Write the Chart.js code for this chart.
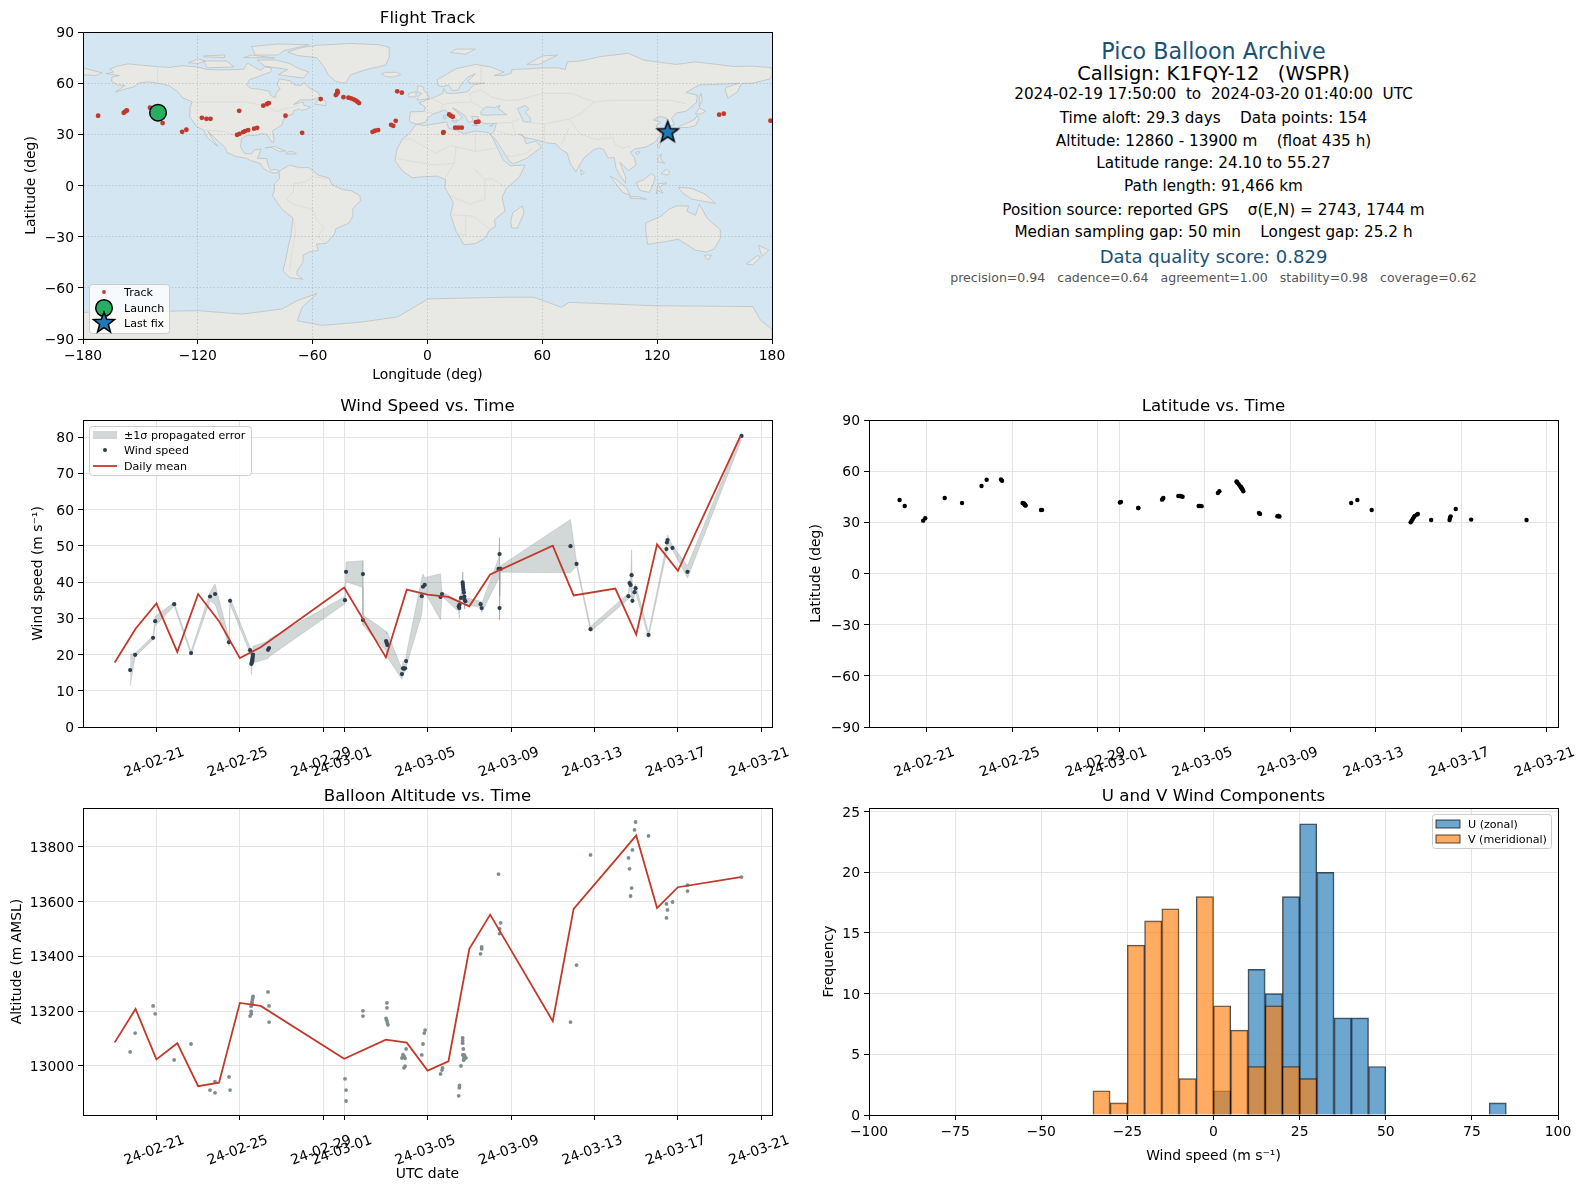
<!DOCTYPE html>
<html>
<head>
<meta charset="utf-8">
<title>Pico Balloon Archive</title>
<style>
  html, body { margin: 0; padding: 0; background: #fff; }
  body { position: relative; width: 1588px; height: 1189px; overflow: hidden; font-family: 'DejaVu Sans', sans-serif; color: #000; }
  canvas { position: absolute; }
  .info { position: absolute; left: 869px; width: 689px; text-align: center; white-space: pre; line-height: 24px; height: 24px; }
</style>
<script src="https://cdn.jsdelivr.net/npm/chart.js@4/dist/chart.umd.js"></script>
</head>
<body>
<canvas id="track-chart" width="794" height="388" style="left:0;top:0"></canvas>
<canvas id="wind-chart" width="794" height="388" style="left:0;top:388px"></canvas>
<canvas id="lat-chart" width="794" height="388" style="left:794px;top:388px"></canvas>
<canvas id="alt-chart" width="794" height="413" style="left:0;top:776px"></canvas>
<canvas id="hist-chart" width="794" height="413" style="left:794px;top:776px"></canvas>
<div id="info"></div>
<script>
// days are counted from 2024-02-00, so Mar 1 is day 30
const DATE_TICK_DAYS = [21, 25, 29, 30, 34, 38, 42, 46, 50];
const DATE_TICK_LABELS = ['24-02-21', '24-02-25', '24-02-29', '24-03-01', '24-03-05', '24-03-09', '24-03-13', '24-03-17', '24-03-21'];

const flightDays = [19.74, 19.98, 20.84, 20.94, 21.85, 22.66, 23.57, 23.81, 24.48, 24.53, 25.49, 25.55, 25.57, 25.58, 25.60, 25.60, 25.62, 25.63, 26.35, 26.40, 30.04, 30.09, 30.90, 30.90, 32.01, 32.04, 32.07, 32.77, 32.82, 32.87, 32.92, 32.97, 33.72, 33.78, 33.86, 34.62, 34.69, 35.49, 35.52, 35.53, 35.60, 35.68, 35.69, 35.70, 35.72, 35.74, 35.76, 35.77, 35.81, 36.54, 36.59, 37.40, 37.45, 37.45, 37.50, 40.85, 41.14, 41.81, 43.63, 43.68, 43.73, 43.78, 43.82, 43.92, 43.97, 44.59, 45.45, 45.47, 45.50, 45.74, 46.46, 49.05];
const windSpeed = [15.7, 19.9, 24.6, 29.2, 33.9, 20.4, 36.0, 36.7, 23.4, 34.8, 21.2, 17.4, 17.7, 18.1, 18.4, 18.8, 19.3, 20.0, 21.3, 21.8, 35.0, 42.8, 42.2, 29.5, 23.7, 23.2, 22.6, 14.6, 16.2, 16.1, 16.2, 18.2, 36.1, 38.7, 39.2, 35.9, 36.7, 33.3, 32.8, 33.7, 35.6, 39.9, 39.3, 38.6, 37.9, 37.1, 36.0, 35.1, 34.7, 33.9, 32.8, 43.6, 47.7, 32.8, 43.6, 49.9, 45.0, 27.0, 36.1, 39.7, 39.2, 41.9, 34.8, 37.2, 38.3, 25.4, 49.1, 50.9, 51.6, 49.4, 42.8, 80.3];
const windError = [4.4, 0.5, 0.5, 1.3, 0.5, 0.5, 1.2, 2.8, 1.0, 0.9, 0.8, 2.9, 1.5, 1.5, 1.0, 1.2, 1.2, 2.3, 2.4, 2.4, 1.0, 2.7, 3.7, 1.4, 2.7, 2.5, 3.4, 1.4, 2.0, 1.2, 0.9, 1.6, 5.0, 3.5, 2.0, 6.4, 0.6, 1.5, 2.8, 1.0, 1.0, 2.9, 1.0, 1.0, 1.0, 1.0, 1.0, 2.5, 1.0, 0.8, 1.3, 2.8, 4.5, 3.3, 0.9, 7.35, 0.6, 0.7, 0.8, 1.0, 1.0, 7.0, 0.6, 0.8, 1.1, 0.7, 1.1, 1.0, 1.4, 0.6, 1.7, 1.0];
const flightLat = [43.1, 39.6, 31.0, 32.4, 44.3, 41.3, 51.3, 55.0, 55.1, 54.4, 41.3, 41.1, 40.9, 40.6, 40.4, 40.2, 40.0, 39.8, 37.2, 37.3, 41.6, 42.0, 38.4, 38.4, 43.3, 43.8, 44.3, 45.4, 45.4, 45.5, 45.2, 45.0, 39.6, 39.6, 39.5, 47.2, 48.2, 54.0, 53.5, 53.2, 52.2, 51.0, 50.8, 50.5, 50.2, 49.9, 49.6, 49.2, 48.2, 35.5, 34.9, 33.6, 33.7, 33.7, 33.4, 41.3, 43.1, 37.2, 30.0, 31.0, 32.0, 33.0, 33.8, 34.5, 34.9, 31.4, 31.4, 32.5, 33.5, 37.8, 31.6, 31.4];

const meanDays = [19, 20, 21, 22, 23, 24, 25, 26, 30, 32, 33, 34, 35, 36, 37, 40, 41, 43, 44, 45, 46, 49];
const windMean = [17.8, 27.1, 34.1, 20.7, 36.7, 29.2, 19.0, 22.0, 38.5, 19.2, 37.9, 36.5, 35.9, 33.3, 42.1, 50.0, 36.3, 38.2, 25.5, 50.4, 43.1, 80.3];
const altMean = [13086, 13208, 13024, 13083, 12926, 12939, 13230, 13219, 13026, 13096, 13085, 12983, 13017, 13427, 13552, 13163, 13573, 13751, 13841, 13576, 13652, 13689];

const altDays = [19.74, 19.98, 20.84, 20.94, 21.85, 22.66, 23.57, 23.81, 23.81, 24.48, 24.53, 25.49, 25.55, 25.54, 25.54, 25.58, 25.58, 25.60, 25.62, 25.63, 26.35, 26.40, 26.40, 30.04, 30.09, 30.09, 30.90, 30.90, 32.01, 32.04, 32.07, 32.10, 32.05, 32.05, 32.77, 32.82, 32.87, 32.92, 32.97, 32.87, 32.92, 33.72, 33.78, 33.84, 33.88, 34.62, 34.69, 34.72, 35.49, 35.52, 35.53, 35.60, 35.68, 35.68, 35.68, 35.71, 35.69, 35.74, 35.77, 35.74, 35.84, 35.73, 36.54, 36.59, 36.59, 37.40, 37.50, 37.45, 37.45, 40.85, 41.14, 41.81, 43.63, 43.68, 43.73, 43.78, 43.82, 43.92, 43.97, 44.59, 45.45, 45.45, 45.50, 45.74, 46.46, 46.46, 49.05];
const altitude = [13051, 13120, 13219, 13190, 13022, 13080, 12912, 12902, 12943, 12960, 12912, 13182, 13190, 13199, 13218, 13226, 13233, 13241, 13248, 13254, 13270, 13219, 13160, 12953, 12912, 12872, 13201, 13182, 13173, 13167, 13157, 13150, 13230, 13212, 13029, 13041, 13035, 13028, 13062, 12993, 12999, 13040, 13080, 13120, 13131, 12971, 12985, 12993, 12891, 12920, 12929, 13000, 13102, 13092, 13083, 13062, 13040, 13040, 13038, 13029, 13029, 13021, 13409, 13427, 13434, 13700, 13522, 13500, 13483, 13160, 13368, 13770, 13759, 13719, 13620, 13649, 13788, 13861, 13890, 13839, 13591, 13540, 13569, 13598, 13660, 13638, 13689];

const trackLon = [-172.1, -158.7, -158.2, -157.4, -157.1, -145, -138.4, -128.2, -126, -117.9, -115.5, -113.4, -98.4, -99.5, -98.2, -96.3, -95.3, -93.7, -90.6, -89, -85.8, -83.9, -82.9, -74.2, -65.5, -55.8, -47.9, -47.4, -46.9, -47.1, -43.9, -41.3, -40, -38.7, -37.6, -36.6, -35.8, -28.7, -27.4, -25.8, -19, -17.9, -16.6, -15.8, -13.4, 8.4, 8.2, 11.3, 12.1, 13.2, 14.5, 16.1, 17.9, 25.3, 26.6, 152.4, 154.8, 179.2];
const trackLat = [40.9, 42.6, 43.2, 43.8, 44, 45.6, 36.6, 31.5, 32.7, 39.7, 39.1, 39.1, 43.8, 29.7, 30.3, 31.3, 31.9, 32.5, 33.3, 33.8, 46.8, 47.8, 48.3, 40.9, 30.9, 50.7, 53, 53.8, 54.6, 55.4, 51.8, 51.5, 51.1, 50.5, 49.9, 49.1, 48.3, 31.5, 32.1, 32.5, 35.6, 35, 37.9, 55.2, 54.4, 31.3, 30.9, 41.7, 40.9, 40.3, 33.9, 33.9, 33.9, 37.2, 37.4, 41.5, 42.1, 38];
const launchLon = [-140.8];
const launchLat = [42.7];
const lastFixLon = [125.5];
const lastFixLat = [31.2];

const histBinCentres = [-32.5, -27.5, -22.5, -17.5, -12.5, -7.5, -2.5, 2.5, 7.5, 12.5, 17.5, 22.5, 27.5, 32.5, 37.5, 42.5, 47.5, 82.5];
const uCounts = [null, null, null, null, null, null, null, 2, null, 12, 10, 18, 24, 20, 8, 8, 4, 1];
const vCounts = [2, 1, 14, 16, 17, 3, 18, 9, 7, 4, 9, 4, 3, null, null, null, null, null];

// coarse coastlines, [lon, lat]
const northAmerica = [[-168,65.6],[-164,66.5],[-166,68.3],[-162,70],[-156.5,71.3],[-148,70.4],[-141,69.7],[-135,69.2],[-128,70.2],[-120,69.5],[-115,68],[-108,67.8],[-100,68],[-96,68.2],[-94,71.8],[-90,69],[-87,67.5],[-85,69.5],[-81.5,69],[-82,66.5],[-87,64.5],[-93,62],[-94.5,59],[-92.5,57],[-88,56.5],[-82.5,55.2],[-82,52.9],[-79.5,51.3],[-79,54.5],[-77,56.5],[-78.5,59],[-77.5,62.5],[-72,61.5],[-69.5,59],[-66,58.7],[-64.5,60.3],[-61.5,57],[-57,54.5],[-56,52],[-60,50.2],[-66.5,50.2],[-70,47.5],[-65,49],[-64.5,47],[-61,46],[-63,44.8],[-66,44],[-67,45],[-70,43.7],[-70.5,41.8],[-74,40.6],[-75.5,38],[-76,35.5],[-78.5,33.8],[-81,32],[-80.2,27],[-80.5,25.2],[-81.8,26],[-82.8,28],[-84,30],[-87,30.4],[-89.5,29.2],[-94,29.5],[-97.2,27.5],[-97.7,22.5],[-95.5,18.8],[-92,18.6],[-90.5,20.8],[-87,21.4],[-88,18],[-88.8,15.9],[-84,15.8],[-83.3,11.5],[-82,9],[-79.5,9.5],[-77.5,8.5],[-78,7.5],[-80.5,7.3],[-83,8.2],[-85.7,10],[-87.5,13],[-92,14.5],[-95,16],[-100,17],[-105,19.5],[-105.5,22],[-109,25.6],[-112.5,29.5],[-114.8,31.7],[-112,26.5],[-109.5,23],[-112,25],[-115,28],[-117,32.5],[-120.6,34.5],[-122.5,37.5],[-124.3,40.3],[-124,46],[-123,49],[-128,51.5],[-130.5,55],[-135,58.5],[-140,59.8],[-146,60.8],[-151,60],[-153,58],[-158,56.5],[-163,54.8],[-158,58.7],[-162,59],[-165,61],[-165,63.5],[-161,64.5]];
const greenland = [[-73,78.2],[-66,80.8],[-58,82.2],[-40,83.3],[-25,82.5],[-20,81],[-20,75],[-22,70.5],[-32,68],[-40,65],[-43,60],[-48,61],[-52,65],[-54,69.5],[-58,75],[-68,76.2]];
const baffin = [[-80,73.7],[-72,71.5],[-68,69],[-62,66.5],[-65,63],[-72,64],[-78,65],[-73,68],[-85,70],[-89,73.5]];
const victoria = [[-117,73],[-105,73],[-101,69.5],[-115,69]];
const banks = [[-125,72],[-120,74.2],[-116,73],[-120,71.5]];
const ellesmere = [[-90,76.5],[-78,76.5],[-75,79],[-62,82.5],[-78,83],[-92,81.5]];
const devon = [[-96,75],[-80,74.8],[-92,76.5]];
const melville = [[-117,75.5],[-106,75],[-106,76.5],[-117,76]];
const newfoundland = [[-59,47.7],[-53,46.8],[-53,49],[-56,51.5]];
const cuba = [[-85,22],[-80,23],[-74.3,20.2],[-77.5,20],[-82,22.5]];
const hispaniola = [[-74,18.5],[-68.5,18.5],[-70,19.8],[-73,19.8]];
const southAmerica = [[-77.5,8.5],[-72,12],[-67,10.5],[-62,10.5],[-57,6],[-51.5,4.5],[-50,0.5],[-44,-2.5],[-40,-3],[-35.3,-6],[-35,-9],[-39,-13.5],[-39,-18],[-41,-22],[-48,-25.5],[-48.6,-28.5],[-53,-34],[-58,-34.3],[-57,-38],[-62,-39],[-65,-41],[-65,-45],[-68,-50],[-68.3,-52.3],[-65,-55],[-72,-54],[-75.5,-50],[-74,-43],[-73,-37],[-71.5,-30],[-70.3,-19],[-76,-14],[-81,-6],[-80,-2.5],[-80,1],[-77.3,4]];
const africa = [[-6,35.8],[-1,35.2],[10,37.3],[11,33.5],[15,32.4],[19,30.3],[25,32],[32,31],[34,28],[37,21],[39.5,15],[43.3,11.6],[51,12],[48,5],[41,-2],[39,-7],[40.5,-15],[35,-20],[35.5,-24],[32.5,-26],[30,-31],[25,-34],[19,-34.7],[15,-27],[12,-17],[13.5,-10],[9,-1],[9.5,3.5],[5,5.5],[-4,5],[-8,4.5],[-13,8.5],[-17,14.5],[-16,21],[-13,27.5],[-10,30]];
const eurasia = [[-5.5,36],[-1,37],[0,39.5],[3,42],[6,43],[9,44.3],[12.5,41.5],[16,38],[18.3,40],[13,45.5],[15,44.5],[19.5,41],[21.5,37],[24,38],[23,40.5],[26.5,40.5],[26.5,39],[27.5,37],[30.5,36.2],[36,36.5],[35,32.5],[34.5,31],[32.5,30],[35,28],[39,21],[43,14],[45,12.8],[52,16],[59.5,22.5],[56.5,26],[51.5,24.5],[50,29.5],[48,30],[51,28],[56,27],[62,25],[67,24.5],[70,21],[73,19],[74.5,13],[77.5,8],[80,13],[82,16.5],[87,21],[90,22],[92,21],[94.5,16],[97.5,16.5],[98.5,10],[100.5,6],[103.5,1.3],[103.5,5],[100.5,13.5],[103,11],[105,8.7],[109,12],[108,16.5],[106,19.5],[108.5,21.5],[114,22.5],[119,25.5],[122,30],[119.5,35],[122,37],[118,38.5],[121.5,40.5],[125,39.5],[126,34.8],[129,35.5],[127.5,39.5],[130,42.5],[135,43.5],[140.5,48.5],[141,53],[135,54.5],[142,59],[155,59.5],[163,60],[156,57.5],[155.5,56],[157,51.2],[162,55],[164,59.8],[170,60],[179,62.5],[180,65],[180,69],[170,70],[160,69.8],[140,72.5],[130,71],[113,73.5],[105,77.5],[90,75.5],[80,73],[73,72.5],[72,68],[68,69],[60,69],[54,68.5],[44,68],[44,66],[40,64.5],[35,64.5],[40,66.5],[33,69.5],[25,71],[15,68.5],[5,62],[5.5,58.5],[8,58],[11,59],[13,55.5],[16,56],[18,60],[21,63.5],[25,65.5],[21,61],[22.5,60],[30,60],[24,59],[21,55],[14,54],[10,54],[8.5,57],[8,54],[4,52],[1.5,50.8],[-4.5,48.5],[-1,46],[-2,43.4],[-9,43.2],[-9.5,38],[-8.8,37]];
const chukotka = [[-180,65],[-173,64.5],[-170,66],[-180,69]];
const britain = [[-5.5,50],[1,51.2],[0,53.5],[-2,56],[-2,57.7],[-5,58.6],[-5.5,55],[-3,54],[-5,52]];
const ireland = [[-10,52],[-6,52],[-6,55],[-10,54]];
const iceland = [[-24,65.5],[-22,64],[-18,63.5],[-14,65],[-16,66.4],[-22,66.3]];
const svalbard = [[12,78],[20,77],[25,80],[15,80]];
const novayaZemlya = [[52,71],[58,71],[68,76.5],[60,76]];
const sicily = [[12.5,38],[15.5,38],[15,36.7]];
const sardinia = [[8.3,41],[9.7,41],[9.5,39],[8.5,39]];
const crete = [[23.5,35.5],[26.3,35.2],[24,35]];
const cyprus = [[32.3,35],[34.5,35.6],[33.5,34.7]];
const honshu = [[130.5,31.5],[131,34],[136,34],[140,35],[141.8,39],[141,41.3],[139.8,39],[136.5,37],[132,35],[130.9,33.8]];
const hokkaido = [[140,42],[143,42],[145.3,43.5],[142,45.5]];
const sakhalin = [[142,46],[143.5,50],[143,54],[142,52]];
const taiwan = [[120,23],[121,22],[122,25],[121,25.3]];
const hainan = [[108.7,19],[110,18.3],[111,19.7],[109.5,20]];
const luzon = [[120.3,16],[122,18.5],[122,15],[124,13],[120.5,14]];
const mindanao = [[122,7],[125.5,6],[126.5,8],[125,9.7],[123,8]];
const borneo = [[109,1.5],[111,-3],[116,-4],[118,1],[119,5],[117,7],[113,3.5]];
const sumatra = [[95.3,5.5],[98,4],[104,-1.5],[106,-5.8],[102,-4],[98.5,1]];
const java = [[105.5,-6.5],[110,-6.5],[114.5,-8],[106,-7.5]];
const sulawesi = [[119.5,-5],[120.5,1],[125,1.5],[121,-1],[123,-4.5],[120.5,-3]];
const newGuinea = [[131,-1],[138,-1.7],[145,-5],[150.5,-10.5],[143,-9],[138,-8],[133,-4]];
const sriLanka = [[80,9.5],[82,7.5],[80.5,6]];
const australia = [[114,-22],[122,-18],[126,-14],[130,-12],[136.5,-12],[135.5,-15],[140,-17.5],[142,-11],[146,-19],[153,-26],[153,-31],[150,-37],[146,-39],[140,-38],[136,-35],[131,-31.5],[124,-33],[115,-34.5],[114,-26]];
const tasmania = [[144.7,-40.8],[148.3,-40.8],[147,-43.5],[145.5,-42.8]];
const newZealandNorth = [[173,-35],[178.3,-38],[175,-41.5],[174,-39]];
const newZealandSouth = [[172.5,-41],[174,-42],[170,-46.5],[166.5,-46]];
const madagascar = [[49.5,-12],[50.5,-16],[47,-25],[44,-25],[43.5,-21],[44.5,-16]];
const antarctica = [[-180,-74.4],[-119.5,-73.4],[-97,-75.4],[-76,-72.4],[-68,-67.5],[-57.6,-63.2],[-65.5,-71.4],[-68,-79.3],[-55,-82],[-34,-80],[-15.5,-77],[0.3,-66.5],[40,-65.5],[55.5,-65.5],[70,-71.4],[74,-68.5],[118.7,-70.5],[170,-71],[174,-79],[180,-84.2],[180,-90],[-180,-90]];
const blackSea = [[28,41.5],[31,41.2],[36,41.5],[41.5,41.5],[37,45],[38,47],[35,45.5],[33,46],[30.5,46],[28,43.5]];
const caspianSea = [[47,45],[51,47],[53,45],[51,43],[53.5,40],[54,37],[50,37.5],[49,40.5]];

const landShapes = [northAmerica, greenland, baffin, victoria, banks, ellesmere, devon, melville, newfoundland, cuba, hispaniola, southAmerica, africa, eurasia, chukotka, britain, ireland, iceland, svalbard, novayaZemlya, sicily, sardinia, crete, cyprus, honshu, hokkaido, sakhalin, taiwan, hainan, luzon, mindanao, borneo, sumatra, java, sulawesi, newGuinea, sriLanka, australia, tasmania, newZealandNorth, newZealandSouth, madagascar, antarctica];
const waterShapes = [blackSea, caspianSea];

const borderLines = [
  [[-123,49],[-95,49],[-83,46],[-79,43],[-75,45],[-70,46],[-67.5,47]],
  [[-141,69.7],[-141,60]],
  [[-117,32.5],[-106.5,31.8],[-101,29.5],[-97.3,26]],
  [[-51.5,4],[-60,5],[-64,2],[-70,1],[-70,-4],[-74,-8],[-70,-11],[-60,-14],[-58,-20],[-54,-25],[-57.5,-30],[-53,-33.5]],
  [[-70,-19],[-69,-28],[-71,-40],[-72,-50]],
  [[-13,27],[-8.7,27.5],[4,19],[12,23.5],[25,20],[25,32]],
  [[25,20],[36.5,22]],
  [[15,23],[14,13],[3,12],[-12,15],[-16,16]],
  [[14,13],[9,4]],
  [[24,10],[30,3.5],[34,4],[41,-1.5]],
  [[30,3.5],[30,-8],[22,-11],[12,-6]],
  [[12,-17],[24,-18],[33,-26]],
  [[20,-18],[20,-29],[16,-28.5]],
  [[28,60],[28,70]],
  [[28,56],[33,52],[40,50],[47,50],[60,54],[75,54],[87,49],[98,50],[107,50],[117,50],[127,50],[135,48]],
  [[87,49],[80,42],[74,39],[61,36],[53,37]],
  [[74,39],[78,33],[80,30],[88,27],[97,28],[98,24],[102,22],[106,23]],
  [[61,36],[61,25]],
  [[74,34],[70,24]],
  [[2,51],[6,49],[8,47.5],[14,48.5],[23,49],[22,54],[28,56]],
  [[7,44],[8,47.5]],
  [[-2,43.4],[3,42.5]],
  [[23,49],[28,46],[29,45]],
  [[44,37],[36,36.5]],
  [[44,37],[46,30],[48,30]],
  [[44,37],[48,39]],
  [[36,32],[46,29]],
  [[38,18],[44,17],[52,19],[55,22]],
];

const INFO_LINES = [
  { text: 'Pico Balloon Archive', y: 50.6, size: 22.2, color: '#1a5276' },
  { text: 'Callsign: K1FQY-12   (WSPR)', y: 73.9, size: 19.44 },
  { text: '2024-02-19 17:50:00  to  2024-03-20 01:40:00  UTC', y: 94.2, size: 15.25 },
  { text: 'Time aloft: 29.3 days    Data points: 154', y: 117.5, size: 15.25 },
  { text: 'Altitude: 12860 - 13900 m    (float 435 h)', y: 140.8, size: 15.25 },
  { text: 'Latitude range: 24.10 to 55.27', y: 163, size: 15.25 },
  { text: 'Path length: 91,466 km', y: 186.4, size: 15.25 },
  { text: 'Position source: reported GPS    σ(E,N) = 2743, 1744 m', y: 209.7, size: 15.25 },
  { text: 'Median sampling gap: 50 min    Longest gap: 25.2 h', y: 232, size: 15.25 },
  { text: 'Data quality score: 0.829', y: 257, size: 18, color: '#1a5276' },
  { text: 'precision=0.94   cadence=0.64   agreement=1.00   stability=0.98   coverage=0.62', y: 277.5, size: 12.55, color: '#555555' },
];

const RED = '#c0392b';
const NAVY = '#2c3e50';
const GREY = '#7f8c8d';
const GRID = '#e4e4e4';
const OCEAN = '#d4e6f1';
const LAND = '#e8e8e4';
const TICK_FONT = { size: 13.9 };
const LABEL_FONT = { size: 13.9 };

Chart.defaults.font.family = "'DejaVu Sans', sans-serif";
Chart.defaults.color = '#000';
Chart.defaults.animation = false;
Chart.defaults.events = [];

function toPoints(xs, ys) {
  return xs.map((x, i) => ({ x, y: ys[i] }));
}

function makeStar(radius) {
  const size = Math.ceil(radius * 2 + 4);
  const star = document.createElement('canvas');
  star.width = size;
  star.height = size;
  const ctx = star.getContext('2d');
  ctx.translate(size / 2, size / 2);
  ctx.beginPath();
  for (let i = 0; i < 10; i++) {
    const r = i % 2 ? radius * 0.42 : radius;
    const a = -Math.PI / 2 + (i * Math.PI) / 5;
    ctx.lineTo(r * Math.cos(a), r * Math.sin(a));
  }
  ctx.closePath();
  ctx.fillStyle = '#1f77b4';
  ctx.fill();
  ctx.lineWidth = 1.5;
  ctx.strokeStyle = '#000';
  ctx.stroke();
  return star;
}

const STAR = makeStar(11);

// frame on all four sides
const framePlugin = {
  id: 'frame',
  afterDraw(chart) {
    const { left, top, width, height } = chart.chartArea;
    chart.ctx.strokeStyle = '#000';
    chart.ctx.lineWidth = 1;
    chart.ctx.setLineDash([]);
    chart.ctx.strokeRect(left + 0.5, top + 0.5, width, height);
  },
};

function traceShape(ctx, scales, shape) {
  shape.forEach(([lon, lat], i) => {
    const px = scales.x.getPixelForValue(lon);
    const py = scales.y.getPixelForValue(lat);
    if (i === 0) ctx.moveTo(px, py);
    else ctx.lineTo(px, py);
  });
}

// ocean, land and borders go under the grid, through the chart's scales
const mapPlugin = {
  id: 'worldMap',
  beforeDraw(chart) {
    const { ctx, scales, chartArea } = chart;
    ctx.save();
    ctx.beginPath();
    ctx.rect(chartArea.left, chartArea.top, chartArea.width, chartArea.height);
    ctx.clip();
    ctx.fillStyle = OCEAN;
    ctx.fillRect(chartArea.left, chartArea.top, chartArea.width, chartArea.height);
    ctx.lineWidth = 0.8;
    ctx.strokeStyle = '#bcc2c2';
    ctx.fillStyle = LAND;
    landShapes.forEach((shape) => {
      ctx.beginPath();
      traceShape(ctx, scales, shape);
      ctx.closePath();
      ctx.fill();
      ctx.stroke();
    });
    ctx.fillStyle = OCEAN;
    waterShapes.forEach((shape) => {
      ctx.beginPath();
      traceShape(ctx, scales, shape);
      ctx.closePath();
      ctx.fill();
      ctx.stroke();
    });
    ctx.strokeStyle = '#d9d9d5';
    borderLines.forEach((line) => {
      ctx.beginPath();
      traceShape(ctx, scales, line);
      ctx.stroke();
    });
    ctx.restore();
  },
};

function drawHandle(ctx, row) {
  const { kind, x, y, color } = row;
  ctx.save();
  if (kind === 'patch') {
    ctx.fillStyle = color;
    ctx.fillRect(x, y - 4, 24, 8);
    if (row.edge) {
      ctx.strokeStyle = row.edge;
      ctx.strokeRect(x, y - 4, 24, 8);
    }
  } else if (kind === 'line') {
    ctx.strokeStyle = color;
    ctx.lineWidth = 1.8;
    ctx.beginPath();
    ctx.moveTo(x, y);
    ctx.lineTo(x + 24, y);
    ctx.stroke();
  } else if (kind === 'dot' || kind === 'circle') {
    ctx.fillStyle = color;
    ctx.beginPath();
    ctx.arc(x + 12, y, row.radius, 0, Math.PI * 2);
    ctx.fill();
    if (kind === 'circle') {
      ctx.strokeStyle = '#000';
      ctx.lineWidth = 1.5;
      ctx.stroke();
    }
  } else if (kind === 'star') {
    ctx.drawImage(STAR, x + 12 - STAR.width / 2, y - STAR.height / 2);
  }
  ctx.restore();
}

const legendPlugin = {
  id: 'boxLegend',
  afterDraw(chart, args, opts) {
    if (!opts.rows) return;
    const { ctx } = chart;
    const { x, y, w, h } = opts;
    ctx.save();
    ctx.beginPath();
    ctx.roundRect(x + 0.5, y + 0.5, w, h, 3);
    ctx.fillStyle = 'rgba(255,255,255,0.8)';
    ctx.fill();
    ctx.strokeStyle = '#cccccc';
    ctx.lineWidth = 1;
    ctx.stroke();
    ctx.font = "11.1px 'DejaVu Sans', sans-serif";
    ctx.textBaseline = 'middle';
    opts.rows.forEach((row) => {
      drawHandle(ctx, { ...row, x: x + opts.handleX });
      ctx.fillStyle = '#000';
      ctx.fillText(row.label, x + opts.textX, row.y + 1);
    });
    ctx.restore();
  },
};

function titleOptions(text, top) {
  return { display: true, fullSize: false, text, font: { size: 16.67, weight: 'normal' }, padding: { top, bottom: 12 - top } };
}

function axisTitle(text, pad) {
  return { display: true, text, font: LABEL_FONT, padding: { top: pad, bottom: pad } };
}

function minusTick(value) {
  return String(value).replace('-', '\u2212');
}

function xAxis(height, extra) {
  return {
    type: 'linear',
    afterFit: (scale) => { scale.height = height; },
    border: { color: '#000' },
    grid: { color: GRID, tickColor: '#000', tickLength: 5, offset: false },
    ...extra,
  };
}

function dateAxis(height, min, max, titlePad, title) {
  return xAxis(height, {
    min,
    max,
    afterBuildTicks: (scale) => { scale.ticks = DATE_TICK_DAYS.map((value) => ({ value })); },
    ticks: {
      font: TICK_FONT,
      autoSkip: false,
      minRotation: 20,
      maxRotation: 20,
      padding: 12,
      labelOffset: 27.5,
      callback: (value) => DATE_TICK_LABELS[DATE_TICK_DAYS.indexOf(value)],
    },
    title: title ? axisTitle(title, titlePad) : { display: false },
  });
}

function yAxis(width, titlePad, title, extra, ticks) {
  return {
    type: 'linear',
    afterFit: (scale) => { scale.width = width; },
    border: { color: '#000' },
    grid: { color: GRID, tickColor: '#000', tickLength: 5 },
    ticks: { font: TICK_FONT, padding: 4, labelOffset: 1.5, includeBounds: false, callback: minusTick, ...ticks },
    title: axisTitle(title, titlePad),
    ...extra,
  };
}

function baseOptions(titleText, titleTop, rightGap, scales, legend) {
  return {
    responsive: false,
    layout: { autoPadding: false, padding: { left: 0, right: rightGap, top: 0, bottom: 0 } },
    scales,
    plugins: {
      legend: { display: false },
      tooltip: { enabled: false },
      title: titleOptions(titleText, titleTop),
      boxLegend: legend || {},
    },
  };
}

function renderTrackChart() {
  const mapGrid = { color: 'rgba(120,120,120,0.28)', tickColor: '#000', tickLength: 5, tickBorderDash: [] };
  const options = baseOptions('Flight Track', 9, 22, {
    x: xAxis(49, {
      min: -180,
      max: 180,
      border: { color: '#000', dash: [1.5, 2] },
      grid: mapGrid,
      ticks: { font: TICK_FONT, stepSize: 60, maxRotation: 0, autoSkip: false, padding: 4, callback: minusTick },
      title: axisTitle('Longitude (deg)', 4),
    }),
    y: yAxis(83, 23, 'Latitude (deg)', {
      min: -90,
      max: 90,
      border: { color: '#000', dash: [1.5, 2] },
      grid: mapGrid,
    }, { stepSize: 30, includeBounds: true, autoSkip: false }),
  }, {
    x: 89, y: 284, w: 80, h: 49,
    handleX: 3, textX: 35,
    rows: [
      { kind: 'dot', label: 'Track', y: 292, color: RED, radius: 1.9 },
      { kind: 'circle', label: 'Launch', y: 308, color: '#27ae60', radius: 8.3 },
      { kind: 'star', label: 'Last fix', y: 323 },
    ],
  });

  new Chart(document.getElementById('track-chart'), {
    type: 'scatter',
    data: {
      datasets: [
        { label: 'Last fix', data: toPoints(lastFixLon, lastFixLat), pointStyle: STAR, order: 0 },
        { label: 'Launch', data: toPoints(launchLon, launchLat), pointRadius: 8.3, backgroundColor: '#27ae60', borderColor: '#000', borderWidth: 1.5, order: 1 },
        { label: 'Track', data: toPoints(trackLon, trackLat), pointRadius: 2.4, backgroundColor: RED, borderWidth: 0, order: 2 },
      ],
    },
    options,
    plugins: [mapPlugin, framePlugin, legendPlugin],
  });
}

function renderWindChart() {
  const upper = windSpeed.map((value, i) => value + windError[i]);
  const lower = windSpeed.map((value, i) => value - windError[i]);

  new Chart(document.getElementById('wind-chart'), {
    type: 'scatter',
    data: {
      datasets: [
        { label: 'Daily mean', data: toPoints(meanDays, windMean), showLine: true, borderColor: RED, borderWidth: 1.8, pointRadius: 0, order: 0 },
        { label: 'Wind speed', data: toPoints(flightDays, windSpeed), pointRadius: 2.1, backgroundColor: NAVY, borderWidth: 0, order: 1 },
        { label: '\u00b11\u03c3 propagated error', data: toPoints(flightDays, upper), showLine: true, fill: '+1', backgroundColor: 'rgba(127,140,141,0.35)', borderColor: 'rgba(127,140,141,0.35)', borderWidth: 0.7, pointRadius: 0, order: 2 },
        { data: toPoints(flightDays, lower), showLine: true, borderColor: 'rgba(127,140,141,0.35)', borderWidth: 0.7, pointRadius: 0, order: 3 },
      ],
    },
    options: baseOptions('Wind Speed vs. Time', 9, 22, {
      x: dateAxis(49, 17.48, 50.51),
      y: yAxis(83, 30, 'Wind speed (m s\u207b\u00b9)', { min: 0, max: 84.7 }, { stepSize: 10 }),
    }, {
      x: 89, y: 38, w: 162, h: 49,
      handleX: 4, textX: 35,
      rows: [
        { kind: 'patch', label: '\u00b11\u03c3 propagated error', y: 47, color: 'rgba(127,140,141,0.35)' },
        { kind: 'dot', label: 'Wind speed', y: 62, color: NAVY, radius: 2 },
        { kind: 'line', label: 'Daily mean', y: 78, color: RED },
      ],
    }),
    plugins: [framePlugin, legendPlugin],
  });
}

function renderLatChart() {
  new Chart(document.getElementById('lat-chart'), {
    type: 'scatter',
    data: {
      datasets: [
        { label: 'Latitude', data: toPoints(flightDays, flightLat), pointRadius: 2.2, backgroundColor: '#000', borderWidth: 0 },
      ],
    },
    options: baseOptions('Latitude vs. Time', 9, 30, {
      x: dateAxis(49, 18.31, 50.52),
      y: yAxis(75, 14, 'Latitude (deg)', { min: -90, max: 90 }, { stepSize: 30, includeBounds: true }),
    }),
    plugins: [framePlugin, legendPlugin],
  });
}

function renderAltChart() {
  new Chart(document.getElementById('alt-chart'), {
    type: 'scatter',
    data: {
      datasets: [
        { label: 'Daily mean', data: toPoints(meanDays, altMean), showLine: true, borderColor: RED, borderWidth: 1.8, pointRadius: 0, order: 0 },
        { label: 'Altitude', data: toPoints(altDays, altitude), pointRadius: 1.9, backgroundColor: GREY, borderWidth: 0, order: 1 },
      ],
    },
    options: baseOptions('Balloon Altitude vs. Time', 11, 22, {
      x: dateAxis(74, 17.48, 50.51, 6.7, 'UTC date'),
      y: yAxis(83, 9, 'Altitude (m AMSL)', { min: 12821, max: 13941 }, { stepSize: 200 }),
    }),
    plugins: [framePlugin, legendPlugin],
  });
}

function renderHistChart() {
  new Chart(document.getElementById('hist-chart'), {
    type: 'bar',
    data: {
      labels: histBinCentres,
      datasets: [
        { label: 'V (meridional)', data: toPoints(histBinCentres, vCounts), backgroundColor: 'rgba(255,127,14,0.65)', borderColor: 'rgba(0,0,0,0.7)', borderWidth: 1, grouped: false, barPercentage: 1, categoryPercentage: 1, order: 0 },
        { label: 'U (zonal)', data: toPoints(histBinCentres, uCounts), backgroundColor: 'rgba(31,119,180,0.65)', borderColor: 'rgba(0,0,0,0.7)', borderWidth: 1, grouped: false, barPercentage: 1, categoryPercentage: 1, order: 1 },
      ],
    },
    options: baseOptions('U and V Wind Components', 11, 30, {
      x: xAxis(74, {
        min: -100,
        max: 100,
        offset: false,
        ticks: { font: TICK_FONT, stepSize: 25, maxRotation: 0, autoSkip: false, padding: 4, callback: minusTick },
        title: axisTitle('Wind speed (m s\u207b\u00b9)', 24),
      }),
      y: yAxis(75, 27, 'Frequency', { min: 0, max: 25.3 }, { stepSize: 5 }),
    }, {
      x: 638, y: 38, w: 119, h: 34,
      handleX: 4, textX: 36,
      rows: [
        { kind: 'patch', label: 'U (zonal)', y: 48, color: 'rgba(31,119,180,0.65)', edge: 'rgba(0,0,0,0.7)' },
        { kind: 'patch', label: 'V (meridional)', y: 63, color: 'rgba(255,127,14,0.65)', edge: 'rgba(0,0,0,0.7)' },
      ],
    }),
    plugins: [framePlugin, legendPlugin],
  });
}

function renderInfo() {
  const holder = document.getElementById('info');
  INFO_LINES.forEach((line) => {
    const div = document.createElement('div');
    div.className = 'info';
    div.textContent = line.text;
    div.style.top = `${line.y - 12}px`;
    div.style.fontSize = `${line.size}px`;
    div.style.color = line.color || '#000';
    holder.appendChild(div);
  });
}

renderInfo();
renderTrackChart();
renderWindChart();
renderLatChart();
renderAltChart();
renderHistChart();
</script>
</body>
</html>
